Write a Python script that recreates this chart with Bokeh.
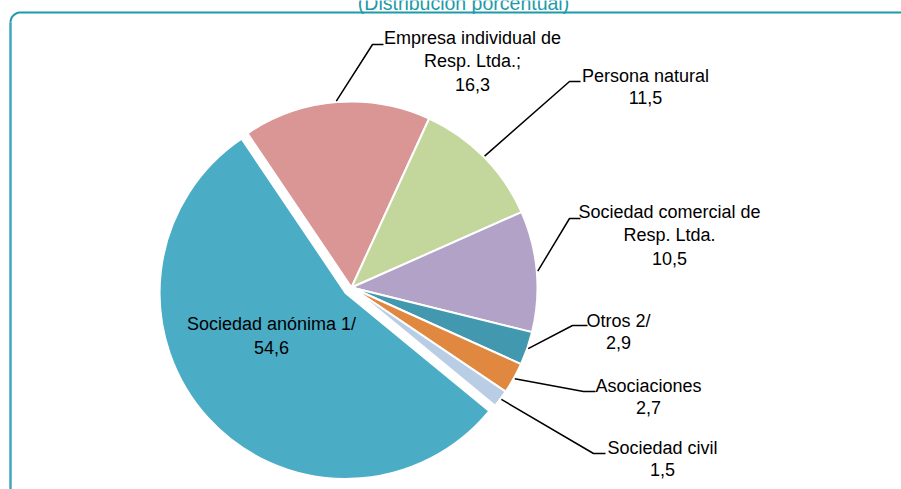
import math
from bokeh.plotting import figure
from bokeh.models import ColumnDataSource, Range1d
from bokeh.core.properties import value
from bokeh.embed import file_html
from bokeh.resources import INLINE

# ---------------- data ----------------
title = "(Distribución porcentual)"
categories = ["Empresa individual de Resp. Ltda.;", "Persona natural",
              "Sociedad comercial de Resp. Ltda.", "Otros 2/", "Asociaciones",
              "Sociedad civil", "Sociedad anónima 1/"]
label_lines = [["Empresa individual de", "Resp. Ltda.;"], ["Persona natural"],
               ["Sociedad comercial de", "Resp. Ltda."], ["Otros 2/"],
               ["Asociaciones"], ["Sociedad civil"], ["Sociedad anónima 1/"]]
values = [16.3, 11.5, 10.5, 2.9, 2.7, 1.5, 54.6]
colors = ["#D99694", "#C3D69B", "#B3A2C7", "#4198AF", "#E0883F", "#B9CDE5", "#4BACC6"]

# ---------------- layout (reference pixels, y downwards) ----------------
W, H = 901, 489
PAGE_H = 489
CX, CY, R = 351, 287, 186
START_DEG = 124.0
explode = [0, 0, 0, 0, 0, 0, 8]
label_pos = [(472, 43), (645, 81), (669, 217), (618, 326), (648, 391), (662, 453), (271, 329)]
line_gap = [23.5, 22, 23.5, 22, 22, 22, 24]
elbows = [(372, 44), (569, 81), (569, 218), (572, 325), (583, 391), (593, 453), None]
ends = [(383, 44), (580, 81), (580, 218), (587, 325), (595, 391), (605, 453), None]
TEXT_DY = -6
FONT = "Liberation Sans"
FSIZE = "18px"


def fy(Y):
    return PAGE_H - Y


p = figure(width=W, height=H, output_backend="svg", toolbar_location=None,
           x_range=Range1d(0, W), y_range=Range1d(PAGE_H - H, PAGE_H),
           min_border=0, outline_line_color=None)
p.axis.visible = False
p.grid.visible = False
p.background_fill_color = "white"
p.border_fill_color = "white"

# ---------------- pie ----------------
xs, ys, sa, ea, mids = [], [], [], [], []
cum = 0.0
total = sum(values)
for v, ex in zip(values, explode):
    a_end = math.radians(START_DEG - 360.0 * cum / total)
    a_start = a_end - math.radians(360.0 * v / total)
    mid = (a_start + a_end) / 2
    xs.append(CX + ex * math.cos(mid))
    ys.append(fy(CY) + ex * math.sin(mid))
    sa.append(a_start)
    ea.append(a_end)
    mids.append(mid)
    cum += v

src = ColumnDataSource(dict(x=xs, y=ys, start=sa, end=ea, color=colors, cat=categories, val=values))
p.wedge(x="x", y="y", radius=R, start_angle="start", end_angle="end", direction="anticlock",
        fill_color="color", line_color="white", line_width=2, source=src)

# ---------------- leader lines ----------------
for i, mid in enumerate(mids):
    if elbows[i] is None:
        continue
    sx = CX + (R + 1) * math.cos(mid)
    sy = fy(CY) + (R + 1) * math.sin(mid)
    p.line([sx, elbows[i][0], ends[i][0]], [sy, fy(elbows[i][1]), fy(ends[i][1])],
           line_color="black", line_width=1.5)

# ---------------- labels ----------------
tx, ty, tt = [], [], []
for i, v in enumerate(values):
    cx, b0 = label_pos[i]
    lines = label_lines[i] + [f"{v:.1f}".replace(".", ",")]
    for k, s in enumerate(lines):
        tx.append(cx)
        ty.append(fy(b0 + TEXT_DY + k * line_gap[i]))
        tt.append(s)
p.text(x=tx, y=ty, text=tt, text_align="center", text_baseline="alphabetic",
       text_font=value(FONT), text_font_size=FSIZE, text_color="black")

# ---------------- frame border (rounded) ----------------
BL, BT, RAD = 10, 12, 10
arc = [(BL + RAD - RAD * math.cos(t), BT + RAD - RAD * math.sin(t))
       for t in [k * (math.pi / 2) / 12 for k in range(13)]]
p.line([BL, BL], [fy(PAGE_H + 5), fy(BT + RAD)], line_color="#3FA6BE", line_width=2.5)
p.line([a[0] for a in arc] + [W + 5], [fy(a[1]) for a in arc] + [fy(BT)],
       line_color="#1E9AA8", line_width=2)

# ---------------- title (partly outside, as in the reference) ----------------
p.text(x=[463], y=[fy(8 + TEXT_DY)], text=[title], text_align="center", text_baseline="alphabetic",
       text_font=value(FONT), text_font_size="19.5px", text_color="#1E9AA8")

open("out.html", "w").write(file_html(p, INLINE))
